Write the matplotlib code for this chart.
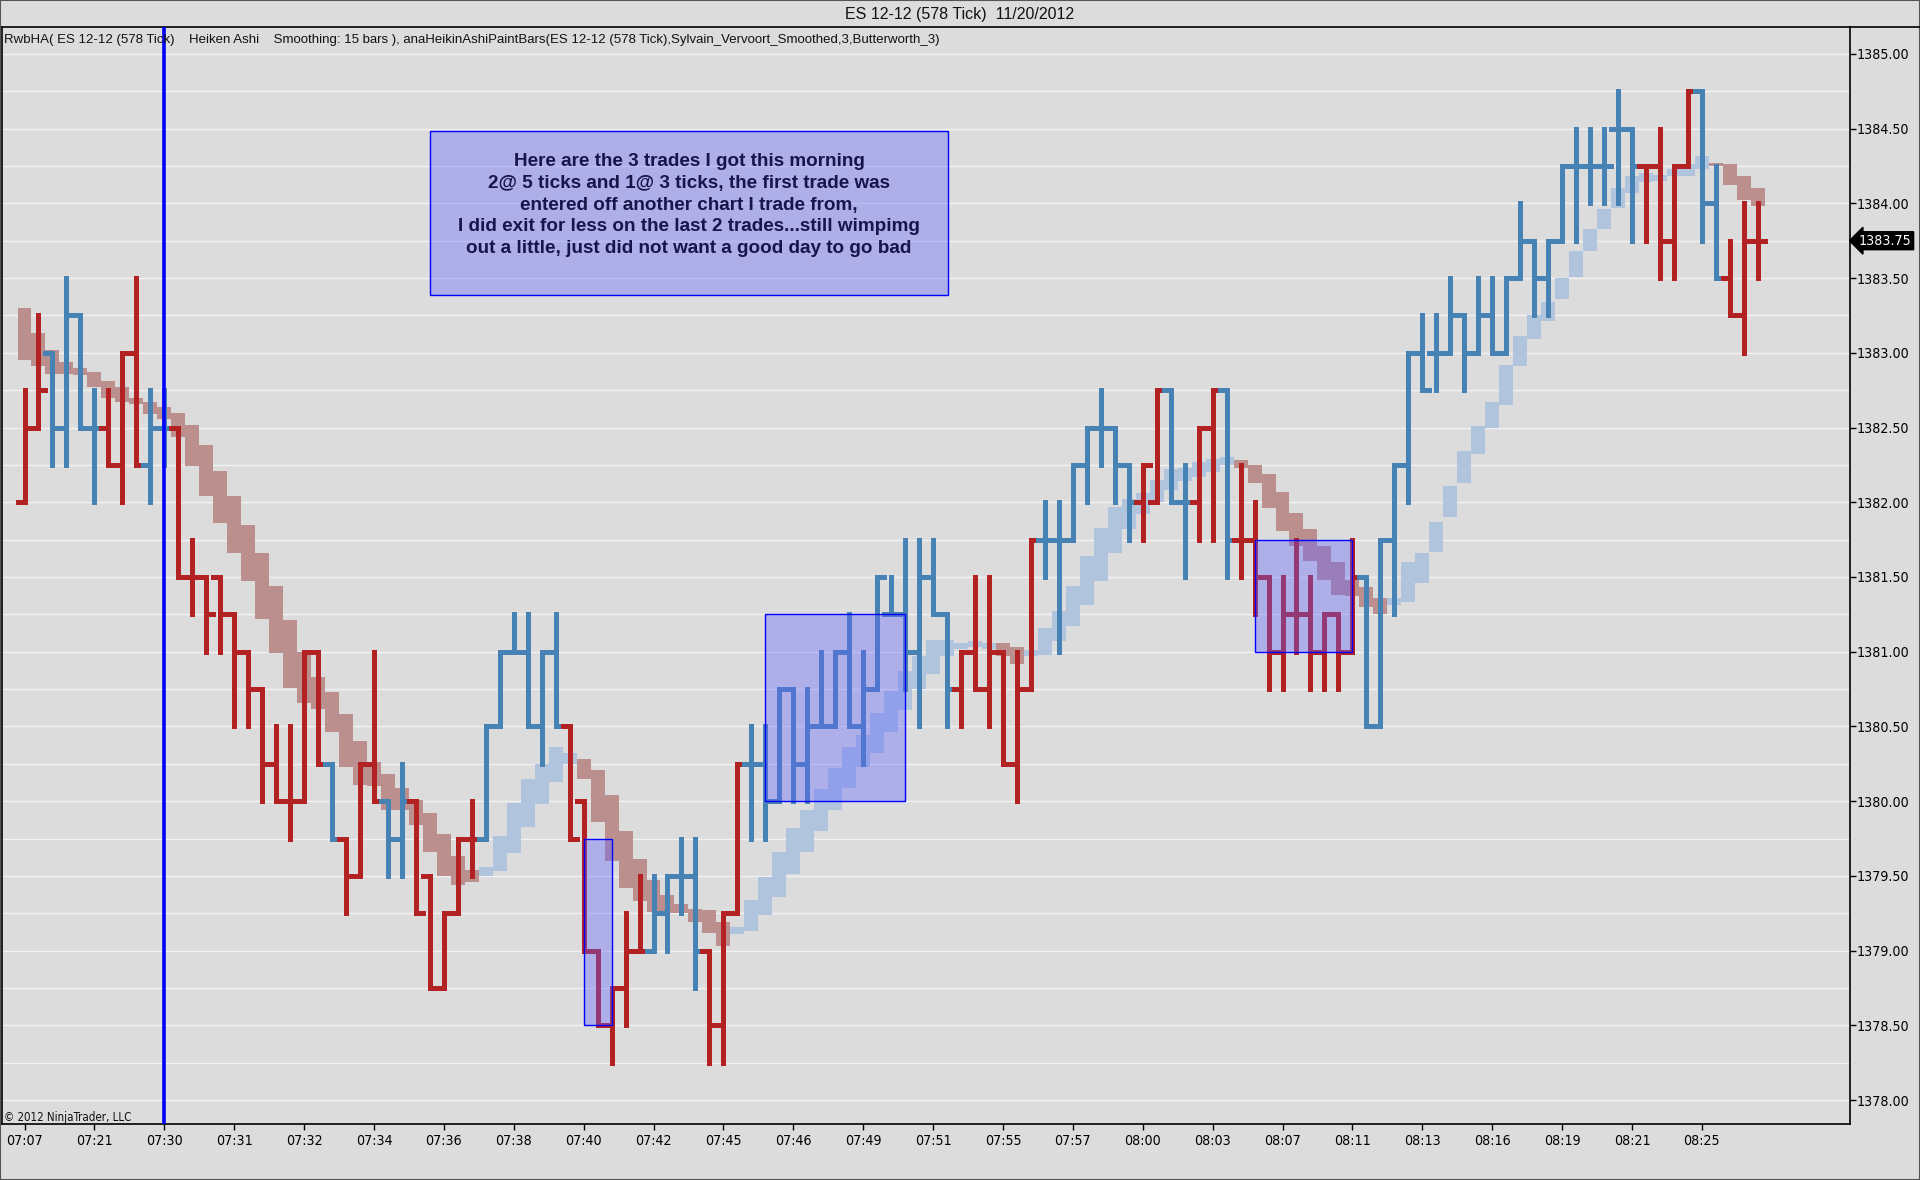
import matplotlib
matplotlib.use('Agg')
import matplotlib.pyplot as plt
from matplotlib.patches import Rectangle
from matplotlib.lines import Line2D
from matplotlib.collections import LineCollection
import matplotlib.transforms as mtransforms
import numpy as np

# ---------------- data ----------------
opens = [1382.00, 1382.50, 1383.00, 1382.50, 1383.25, 1382.50, 1382.50, 1382.25, 1383.00, 1382.25, 1382.50,
         1382.50, 1381.50, 1381.50, 1381.50, 1381.25, 1381.00, 1380.75, 1380.25, 1380.00, 1380.00,
         1381.00, 1380.25, 1379.75, 1379.50, 1380.25, 1380.00, 1379.75, 1380.00, 1379.50, 1378.75,
         1379.25, 1379.75, 1379.75, 1380.50, 1381.00, 1381.00, 1380.50, 1381.00, 1380.50, 1380.00,
         1379.00, 1378.50, 1378.75, 1379.00, 1379.00, 1379.25, 1379.50, 1379.50, 1379.00, 1378.50,
         1379.25, 1380.25, 1380.25, 1380.00, 1380.75, 1380.25, 1380.50, 1380.50, 1381.00, 1380.50,
         1380.75, 1381.25, 1381.25, 1381.00, 1381.50, 1381.25, 1380.75, 1381.00, 1380.75, 1381.00,
         1380.25, 1380.75, 1381.75, 1381.75, 1381.75, 1382.25, 1382.50, 1382.50, 1382.25, 1382.00,
         1382.00, 1382.75, 1382.00, 1382.00, 1382.50, 1382.75, 1381.75, 1381.75, 1381.50, 1381.00,
         1381.25, 1381.25, 1381.00, 1381.25, 1381.00, 1381.50, 1380.50, 1381.75, 1382.25, 1383.00,
         1383.00, 1383.00, 1383.25, 1383.00, 1383.25, 1383.00, 1383.50, 1383.75, 1383.50, 1383.75,
         1384.25, 1384.25, 1384.25, 1384.50, 1384.50, 1384.25, 1384.25, 1383.75, 1384.25, 1384.75,
         1384.00, 1383.50, 1383.25, 1383.75]
highs = [1382.75, 1383.25, 1383.00, 1383.50, 1383.25, 1382.75, 1382.75, 1383.00, 1383.50, 1382.75, 1382.75,
         1382.50, 1381.75, 1381.50, 1381.50, 1381.25, 1381.00, 1380.75, 1380.50, 1380.50, 1381.00,
         1381.00, 1380.25, 1379.75, 1380.25, 1381.00, 1380.00, 1380.25, 1380.00, 1379.50, 1379.25,
         1379.75, 1380.00, 1380.50, 1381.00, 1381.25, 1381.25, 1381.00, 1381.25, 1380.50, 1380.00,
         1379.00, 1378.75, 1379.25, 1379.50, 1379.50, 1379.50, 1379.75, 1379.75, 1379.00, 1379.25,
         1380.25, 1380.50, 1380.50, 1380.75, 1380.75, 1380.75, 1381.00, 1381.00, 1381.25, 1381.00,
         1381.50, 1381.50, 1381.75, 1381.75, 1381.75, 1381.25, 1381.00, 1381.50, 1381.50, 1381.00,
         1381.00, 1381.75, 1382.00, 1382.00, 1382.25, 1382.50, 1382.75, 1382.50, 1382.25, 1382.25,
         1382.75, 1382.75, 1382.25, 1382.50, 1382.75, 1382.75, 1382.25, 1382.00, 1381.50, 1381.50,
         1381.75, 1381.50, 1381.25, 1381.25, 1381.75, 1381.50, 1381.75, 1382.25, 1383.00, 1383.25,
         1383.25, 1383.50, 1383.25, 1383.50, 1383.50, 1383.50, 1384.00, 1383.75, 1383.75, 1384.25,
         1384.50, 1384.50, 1384.50, 1384.75, 1384.50, 1384.25, 1384.50, 1384.25, 1384.75, 1384.75,
         1384.25, 1383.75, 1384.00, 1384.00]
lows = [1382.00, 1382.50, 1382.25, 1382.25, 1382.50, 1382.00, 1382.25, 1382.00, 1382.25, 1382.00, 1382.25,
        1381.50, 1381.25, 1381.00, 1381.00, 1380.50, 1380.50, 1380.00, 1380.00, 1379.75, 1380.00,
        1380.25, 1379.75, 1379.25, 1379.50, 1380.00, 1379.50, 1379.50, 1379.25, 1378.75, 1378.75,
        1379.25, 1379.50, 1379.75, 1380.50, 1381.00, 1380.50, 1380.25, 1380.50, 1379.75, 1379.00,
        1378.50, 1378.25, 1378.50, 1379.00, 1379.00, 1379.00, 1379.25, 1378.75, 1378.25, 1378.25,
        1379.25, 1379.75, 1379.75, 1380.00, 1380.00, 1380.00, 1380.50, 1380.50, 1380.50, 1380.25,
        1380.75, 1381.25, 1380.75, 1380.50, 1381.25, 1380.50, 1380.50, 1380.75, 1380.50, 1380.25,
        1380.00, 1380.75, 1381.50, 1381.00, 1381.75, 1382.00, 1382.25, 1382.00, 1381.75, 1381.75,
        1382.00, 1382.00, 1381.50, 1381.75, 1381.75, 1381.50, 1381.50, 1381.25, 1380.75, 1380.75,
        1381.00, 1380.75, 1380.75, 1380.75, 1381.00, 1380.50, 1380.50, 1381.25, 1382.00, 1382.75,
        1382.75, 1383.00, 1382.75, 1383.00, 1383.00, 1383.00, 1383.50, 1383.25, 1383.25, 1383.75,
        1383.75, 1384.00, 1384.00, 1384.00, 1383.75, 1383.75, 1383.50, 1383.50, 1384.25, 1383.75,
        1383.50, 1383.25, 1383.00, 1383.50]
closes = [1382.50, 1382.75, 1382.50, 1383.25, 1382.50, 1382.50, 1382.25, 1383.00, 1382.25, 1382.50, 1382.50,
          1381.50, 1381.50, 1381.25, 1381.25, 1381.00, 1380.75, 1380.25, 1380.00, 1380.00, 1381.00,
          1380.25, 1379.75, 1379.50, 1380.25, 1380.00, 1379.75, 1380.00, 1379.25, 1378.75, 1379.25,
          1379.75, 1379.75, 1380.50, 1381.00, 1381.00, 1380.50, 1381.00, 1380.50, 1379.75, 1379.00,
          1378.50, 1378.75, 1379.00, 1379.00, 1379.25, 1379.50, 1379.50, 1379.00, 1378.50, 1379.25,
          1380.25, 1380.25, 1380.00, 1380.75, 1380.25, 1380.50, 1380.50, 1381.00, 1380.50, 1380.75,
          1381.50, 1381.25, 1381.00, 1381.50, 1381.25, 1380.75, 1381.00, 1380.75, 1381.00, 1380.25,
          1380.75, 1381.75, 1381.75, 1381.75, 1382.25, 1382.50, 1382.50, 1382.25, 1382.00, 1382.25,
          1382.75, 1382.00, 1382.00, 1382.50, 1382.75, 1381.75, 1381.75, 1381.50, 1381.00, 1381.25,
          1381.25, 1381.00, 1381.25, 1381.00, 1381.50, 1380.50, 1381.75, 1382.25, 1383.00, 1382.75,
          1383.00, 1383.25, 1383.00, 1383.25, 1383.00, 1383.50, 1383.75, 1383.50, 1383.75, 1384.25,
          1384.25, 1384.25, 1384.25, 1384.50, 1384.25, 1384.25, 1383.75, 1384.25, 1384.75, 1384.00,
          1383.50, 1383.25, 1383.75, 1383.75]
# paint-bar colour per bar: R = down, B = up
bar_dir = ("RRBBBBRRRBB" "RRRRRRRRRRR" "BRRRBBRRRRR" "BBBBBB" "RRRRRR" "BBBB" "RRR"
           "BBBBBBBBBBBBBBB" "RRRRRR" "BBBBBBB" "RRBBRRB" "RRRRRRRRR"
           "BBBBBBBBBBBBBBBBBBBB" "RRRR" "BB" "RRR")

# smoothed Heiken-Ashi band (lower / upper edge per bar)
band_lo = [1382.95, 1382.91, 1382.86, 1382.86, 1382.85, 1382.77, 1382.70, 1382.67, 1382.66, 1382.59,
           1382.56, 1382.44, 1382.24, 1382.04, 1381.86, 1381.66, 1381.47, 1381.22, 1380.99, 1380.76,
           1380.66, 1380.62, 1380.46, 1380.23, 1380.11, 1380.10, 1379.94, 1379.94, 1379.84, 1379.66,
           1379.50, 1379.44, 1379.46, 1379.50, 1379.53, 1379.65, 1379.83, 1379.98, 1380.13, 1380.25,
           1380.15, 1379.86, 1379.60, 1379.42, 1379.33, 1379.26, 1379.25, 1379.25, 1379.19, 1379.12,
           1379.03, 1379.11, 1379.13, 1379.24, 1379.36, 1379.51, 1379.66, 1379.80, 1379.94, 1380.09,
           1380.23, 1380.32, 1380.46, 1380.61, 1380.75, 1380.85, 1380.97, 1381.02, 1381.03, 1381.02,
           1380.97, 1380.92, 1380.97, 1380.98, 1381.07, 1381.17, 1381.31, 1381.47, 1381.66, 1381.82,
           1381.92, 1382.00, 1382.08, 1382.14, 1382.17, 1382.20, 1382.25, 1382.23, 1382.13, 1381.96,
           1381.81, 1381.71, 1381.61, 1381.48, 1381.38, 1381.37, 1381.30, 1381.25, 1381.31, 1381.33,
           1381.46, 1381.67, 1381.90, 1382.13, 1382.32, 1382.50, 1382.65, 1382.91, 1383.09, 1383.21,
           1383.36, 1383.51, 1383.68, 1383.83, 1383.97, 1384.07, 1384.14, 1384.15, 1384.18, 1384.18,
           1384.23, 1384.25, 1384.12, 1384.02, 1383.98]
band_hi = [1383.30, 1383.13, 1383.02, 1382.94, 1382.90, 1382.87, 1382.81, 1382.77, 1382.70, 1382.67,
           1382.64, 1382.60, 1382.52, 1382.38, 1382.21, 1382.04, 1381.85, 1381.66, 1381.44, 1381.21,
           1381.00, 1380.83, 1380.73, 1380.58, 1380.40, 1380.26, 1380.18, 1380.09, 1380.01, 1379.92,
           1379.78, 1379.63, 1379.54, 1379.56, 1379.77, 1379.99, 1380.15, 1380.25, 1380.36, 1380.32,
           1380.28, 1380.21, 1380.04, 1379.80, 1379.61, 1379.47, 1379.37, 1379.31, 1379.28, 1379.27,
           1379.19, 1379.16, 1379.34, 1379.49, 1379.66, 1379.82, 1379.94, 1380.08, 1380.22, 1380.36,
           1380.44, 1380.59, 1380.74, 1380.87, 1380.97, 1381.08, 1381.08, 1381.06, 1381.07, 1381.06,
           1381.06, 1381.03, 1381.01, 1381.16, 1381.27, 1381.44, 1381.64, 1381.83, 1381.97, 1382.02,
           1382.06, 1382.15, 1382.22, 1382.23, 1382.27, 1382.29, 1382.30, 1382.28, 1382.25, 1382.19,
           1382.07, 1381.93, 1381.82, 1381.71, 1381.60, 1381.48, 1381.43, 1381.36, 1381.36, 1381.60,
           1381.66, 1381.87, 1382.11, 1382.34, 1382.51, 1382.67, 1382.92, 1383.11, 1383.25, 1383.34,
           1383.50, 1383.68, 1383.83, 1383.96, 1384.10, 1384.18, 1384.20, 1384.19, 1384.23, 1384.26,
           1384.32, 1384.27, 1384.26, 1384.18, 1384.10]
band_dir = ("R" * 33 + "B" * 7 + "R" * 11 + "B" * 19 + "R" * 2 + "B" * 15 +
            "R" * 11 + "B" * 23 + "R" * 4)

tick_pos = list(range(0, 121, 5))
tick_labels = ["07:07", "07:21", "07:30", "07:31", "07:32", "07:34", "07:36", "07:38", "07:40",
               "07:42", "07:45", "07:46", "07:49", "07:51", "07:55", "07:57", "08:00", "08:03",
               "08:07", "08:11", "08:13", "08:16", "08:19", "08:21", "08:25"]

# trades (start bar, end bar, low price, high price)
trade_x0 = [40, 53, 88]
trade_x1 = [42, 63, 95]
trade_lo = [1378.50, 1380.00, 1381.00]
trade_hi = [1379.75, 1381.25, 1381.75]

session_bar = 10
last_price = 1383.75

note_lines = ["Here are the 3 trades I got this morning",
              "2@ 5 ticks and 1@ 3 ticks, the first trade was",
              "entered off another chart I trade from,",
              "I did exit for less on the last 2 trades...still wimpimg",
              "out a little, just did not want a good day to go bad"]

# ---------------- style ----------------
BG = '#dcdcdc'
RED = '#b22222'
BLUE = '#4682b4'
BAND_R = '#bc8f8f'
BAND_B = '#b0c4de'
NARROW = ['Liberation Sans Narrow', 'DejaVu Sans']
SANS = ['Liberation Sans', 'DejaVu Sans']
NARROW_KW = dict(family=NARROW, stretch='condensed')
TICK_FS = 10.2

W, H = 1920, 1180
fig = plt.figure(figsize=(W / 100, H / 100), dpi=100, facecolor=BG)
ax_l, ax_r, ax_t, ax_b = 2, 1850, 27, 1124
ax = fig.add_axes([ax_l / W, 1 - ax_b / H, (ax_r - ax_l) / W, (ax_b - ax_t) / H])
ax.set_facecolor(BG)

n = len(opens)
ax.set_xlim(-1.61, 130.6)
ax.set_ylim(1377.84, 1385.18)

# grid
for p in np.arange(1378.0, 1385.01, 0.25):
    ax.axhline(p, color='#f2f2f2', lw=1.0, zorder=0)

# band
for k in range(n):
    c = BAND_R if band_dir[k] == 'R' else BAND_B
    ax.add_patch(Rectangle((k - 0.5, band_lo[k]), 1.0, band_hi[k] - band_lo[k],
                           facecolor=c, edgecolor='none', zorder=1))

# bars
lw = 3.6
for k in range(n):
    c = RED if bar_dir[k] == 'R' else BLUE
    segs = [[(k, lows[k]), (k, highs[k])],
            [(k - 0.5, opens[k]), (k, opens[k])],
            [(k, closes[k]), (k + 0.5, closes[k])]]
    lc = LineCollection(segs, colors=c, linewidths=lw, zorder=2)
    lc.set_capstyle('projecting')
    ax.add_collection(lc)

# session start line
ax.axvline(session_bar, color='#0000ff', lw=2.6, zorder=4)

# trade boxes
for x0, x1, lo, hi in zip(trade_x0, trade_x1, trade_lo, trade_hi):
    ax.add_patch(Rectangle((x0, lo), x1 - x0, hi - lo, facecolor=(0.39, 0.39, 1.0, 0.38),
                           edgecolor='#0000ff', lw=1.0, zorder=5))

# note box
bx0, bx1 = 29.0, 66.1
by0, by1 = 1383.387, 1384.484
ax.add_patch(Rectangle((bx0, by0), bx1 - bx0, by1 - by0, facecolor=(0.39, 0.39, 1.0, 0.38),
                       edgecolor='#0000ff', lw=1.0, zorder=5))
ax.text((bx0 + bx1) / 2, by1 - 0.15, "\n".join(note_lines), ha='center', va='top',
        fontsize=13.6, fontweight='bold', color='#16164a', family=SANS,
        linespacing=1.36, zorder=6)

# axes styling
for s in ['left', 'bottom', 'right', 'top']:
    ax.spines[s].set_color('black')
    ax.spines[s].set_linewidth(1.2)
ax.yaxis.tick_right()
yt = np.arange(1378.0, 1385.01, 0.5)
ax.set_yticks(yt)
ax.set_yticklabels([f"{v:.2f}" for v in yt], fontsize=TICK_FS, **NARROW_KW)
ax.tick_params(axis='y', direction='out', length=4, width=1, pad=1, colors='black')
ax.set_xticks(tick_pos)
ax.set_xticklabels(tick_labels, fontsize=TICK_FS, **NARROW_KW)
ax.tick_params(axis='x', direction='out', length=4, width=1, pad=3, colors='black')

# last price marker
trans = mtransforms.blended_transform_factory(ax.transAxes, ax.transData)
ax.text(1.0 + 9 / (ax_r - ax_l), last_price, f"{last_price:.2f}", transform=trans,
        ha='left', va='center', color='white', fontsize=TICK_FS, **NARROW_KW,
        bbox=dict(boxstyle='larrow,pad=0.14', fc='black', ec='black'), clip_on=False, zorder=10)

# texts
fig.text(0.5, 1 - 15 / H, "ES 12-12 (578 Tick)  11/20/2012", ha='center', va='center',
         fontsize=11.5, family=SANS, color='#111111')
fig.text(4 / W, 1 - 40 / H,
         "RwbHA( ES 12-12 (578 Tick)    Heiken Ashi    Smoothing: 15 bars ), "
         "anaHeikinAshiPaintBars(ES 12-12 (578 Tick),Sylvain_Vervoort_Smoothed,3,Butterworth_3)",
         ha='left', va='center', fontsize=9.5, family=SANS, color='#111111')
fig.text(4 / W, 1 - 1117 / H, "\u00a9 2012 NinjaTrader, LLC", ha='left', va='center',
         fontsize=8.3, color='#111111', **NARROW_KW)

# top border across full width and figure frame
fig.add_artist(Line2D([ax_r / W, 1], [1 - ax_t / H, 1 - ax_t / H], color='black', lw=1.2))
fig.add_artist(Rectangle((0, 0), 1, 1, transform=fig.transFigure, fill=False,
                         edgecolor='#555555', lw=1.5))

fig.savefig('out.png', dpi=100, facecolor=BG)
